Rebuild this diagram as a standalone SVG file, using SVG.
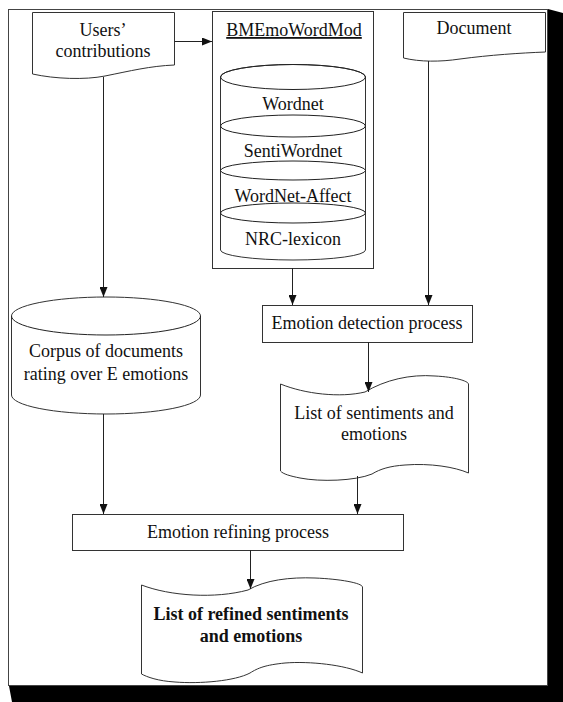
<svg xmlns="http://www.w3.org/2000/svg" width="563" height="702" viewBox="0 0 563 702">
<defs>
<style>
.ln{stroke:#222;stroke-width:1;fill:none}
.sh{stroke:#333;stroke-width:1;fill:#fff}
.t{font-family:"Liberation Serif","Times New Roman",serif;font-size:18px;fill:#111;text-anchor:middle}
.b{font-weight:bold}
</style>
<marker id="ah" markerUnits="userSpaceOnUse" markerWidth="10" markerHeight="8" refX="10" refY="4" orient="auto">
<path d="M0,0 L10,4 L0,8 Z" fill="#111"/>
</marker>
</defs>
<rect width="563" height="702" fill="#fff"/>
<g id="frame">
<polygon points="548,9 563,13 563,702 12,702 9,686 548,686" fill="#000"/>
<rect x="8.5" y="9.5" width="539" height="676" fill="#fff" stroke="#444" stroke-width="1"/>
</g>
<g id="users">
<path class="sh" d="M32.5,12.5 L174.5,12.5 L174.5,65 C150,66 130,71 105,76 C85,80 55,79 32.5,74 Z"/>
<text class="t" x="103" y="36">Users’</text>
<text class="t" x="103" y="57">contributions</text>
</g>
<g id="bmemowordmod">
<rect class="sh" x="212.5" y="11.5" width="161" height="257"/>
<text class="t" x="294" y="36" text-decoration="underline">BMEmoWordMod</text>
<path class="sh" d="M220.5,77 A72.5,12.5 0 0 1 365.5,77 L365.5,250 A72.5,10 0 0 1 220.5,250 Z"/>
<ellipse class="ln" cx="293" cy="77" rx="72.5" ry="12.5"/>
<ellipse class="ln" cx="293" cy="126" rx="72.5" ry="11"/>
<ellipse class="ln" cx="293" cy="170.5" rx="72.5" ry="9.5"/>
<ellipse class="ln" cx="293" cy="213" rx="72.5" ry="10"/>
<text class="t" x="293" y="110">Wordnet</text>
<text class="t" x="293" y="157">SentiWordnet</text>
<text class="t" x="293" y="202">WordNet-Affect</text>
<text class="t" x="293" y="245">NRC-lexicon</text>
</g>
<g id="document">
<path class="sh" d="M403.5,12.5 L545.5,12.5 L545.5,52 C520,53 490,55 460,59 C440,62 420,62 403.5,58 Z"/>
<text class="t" x="474" y="34">Document</text>
</g>
<g id="corpus">
<path class="sh" d="M11.5,316 A94.5,19 0 0 1 200.5,316 L200.5,395 A94.5,19 0 0 1 11.5,395 Z"/>
<path class="ln" d="M11.5,316 A94.5,19 0 0 0 200.5,316"/>
<text class="t" x="106" y="357">Corpus of documents</text>
<text class="t" x="106" y="380">rating over E emotions</text>
</g>
<g id="detection">
<rect class="sh" x="262.5" y="305.5" width="210" height="37"/>
<text class="t" x="367" y="329">Emotion detection process</text>
</g>
<g id="sentiments">
<path class="sh" d="M280.5,384 C305,394 340,398 365,392 C385,380 410,374 435,376 C455,377 468,381 468.5,384 L468.5,473 C455,467 430,463 405,465 C390,466 380,469 372,474 C355,481 320,482 300,478 C290,476 283,474 280.5,471 Z"/>
<text class="t" x="374" y="419">List of sentiments and</text>
<text class="t" x="374" y="440">emotions</text>
</g>
<g id="refining">
<rect class="sh" x="72.5" y="514.5" width="331" height="36"/>
<text class="t" x="238" y="538">Emotion refining process</text>
</g>
<g id="refined">
<path class="sh" d="M141.5,585 C170,596 215,599 248,590 C265,580 290,577 315,578 C340,579 362,583 362.5,587 L362.5,673 C345,665 310,661 285,663 C265,665 258,668 250,673 C235,681 200,684 175,682 C158,681 147,677 141.5,674 Z"/>
<text class="t b" x="251" y="620">List of refined sentiments</text>
<text class="t b" x="251" y="642">and emotions</text>
</g>
<g id="connectors">
<line class="ln" x1="174.5" y1="41.5" x2="212" y2="41.5" marker-end="url(#ah)"/>
<line class="ln" x1="103.5" y1="77" x2="103.5" y2="297" marker-end="url(#ah)"/>
<line class="ln" x1="292.5" y1="268" x2="292.5" y2="305" marker-end="url(#ah)"/>
<line class="ln" x1="428.5" y1="61" x2="428.5" y2="305" marker-end="url(#ah)"/>
<line class="ln" x1="368.5" y1="342" x2="368.5" y2="392" marker-end="url(#ah)"/>
<line class="ln" x1="103.5" y1="414" x2="103.5" y2="514" marker-end="url(#ah)"/>
<line class="ln" x1="357.5" y1="476" x2="357.5" y2="514" marker-end="url(#ah)"/>
<line class="ln" x1="250.5" y1="550" x2="250.5" y2="589" marker-end="url(#ah)"/>
</g>
</svg>
